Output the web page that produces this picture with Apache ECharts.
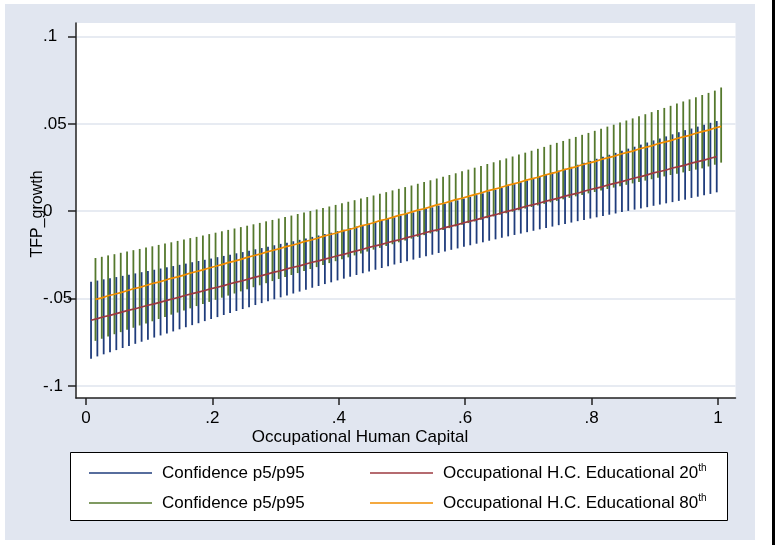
<!DOCTYPE html>
<html>
<head>
<meta charset="utf-8">
<title>TFP growth</title>
<script src="https://cdn.jsdelivr.net/npm/echarts@6/dist/echarts.min.js"></script>
<style>
  html, body { margin: 0; padding: 0; background: #fff; }
  #chart { width: 775px; height: 545px; }
</style>
</head>
<body>
<div id="chart"></div>
<script>
// occupational human capital grid
const hcGrid = [
  0.01, 0.02, 0.03, 0.04, 0.05, 0.06, 0.07, 0.08, 0.09, 0.10,
  0.11, 0.12, 0.13, 0.14, 0.15, 0.16, 0.17, 0.18, 0.19, 0.20,
  0.21, 0.22, 0.23, 0.24, 0.25, 0.26, 0.27, 0.28, 0.29, 0.30,
  0.31, 0.32, 0.33, 0.34, 0.35, 0.36, 0.37, 0.38, 0.39, 0.40,
  0.41, 0.42, 0.43, 0.44, 0.45, 0.46, 0.47, 0.48, 0.49, 0.50,
  0.51, 0.52, 0.53, 0.54, 0.55, 0.56, 0.57, 0.58, 0.59, 0.60,
  0.61, 0.62, 0.63, 0.64, 0.65, 0.66, 0.67, 0.68, 0.69, 0.70,
  0.71, 0.72, 0.73, 0.74, 0.75, 0.76, 0.77, 0.78, 0.79, 0.80,
  0.81, 0.82, 0.83, 0.84, 0.85, 0.86, 0.87, 0.88, 0.89, 0.90,
  0.91, 0.92, 0.93, 0.94, 0.95, 0.96, 0.97, 0.98, 0.99, 1.00
]

// p5/p95 band, educational 20th
const ci20Low = [
  -0.0844, -0.0831, -0.0819, -0.0807, -0.0795, -0.0783, -0.0771, -0.0759, -0.0747, -0.0735,
  -0.0723, -0.0711, -0.0700, -0.0688, -0.0676, -0.0664, -0.0652, -0.0641, -0.0629, -0.0617,
  -0.0606, -0.0594, -0.0583, -0.0571, -0.0560, -0.0549, -0.0537, -0.0526, -0.0515, -0.0504,
  -0.0493, -0.0482, -0.0471, -0.0460, -0.0449, -0.0438, -0.0428, -0.0417, -0.0407, -0.0396,
  -0.0386, -0.0375, -0.0365, -0.0355, -0.0345, -0.0335, -0.0325, -0.0315, -0.0305, -0.0296,
  -0.0286, -0.0277, -0.0267, -0.0258, -0.0249, -0.0239, -0.0230, -0.0221, -0.0213, -0.0204,
  -0.0195, -0.0186, -0.0178, -0.0169, -0.0161, -0.0152, -0.0144, -0.0136, -0.0128, -0.0120,
  -0.0112, -0.0104, -0.0096, -0.0088, -0.0080, -0.0073, -0.0065, -0.0057, -0.0050, -0.0042,
  -0.0035, -0.0027, -0.0020, -0.0013, -0.0005, 0.0002, 0.0009, 0.0016, 0.0023, 0.0031,
  0.0038, 0.0045, 0.0052, 0.0059, 0.0066, 0.0076, 0.0083, 0.0091, 0.0099, 0.0108
]
const ci20High = [
  -0.0404, -0.0397, -0.0390, -0.0383, -0.0377, -0.0370, -0.0363, -0.0356, -0.0349, -0.0342,
  -0.0335, -0.0328, -0.0321, -0.0314, -0.0307, -0.0300, -0.0292, -0.0285, -0.0278, -0.0271,
  -0.0263, -0.0256, -0.0249, -0.0241, -0.0234, -0.0226, -0.0218, -0.0211, -0.0203, -0.0195,
  -0.0187, -0.0180, -0.0172, -0.0164, -0.0156, -0.0147, -0.0139, -0.0131, -0.0123, -0.0114,
  -0.0106, -0.0097, -0.0088, -0.0080, -0.0071, -0.0062, -0.0053, -0.0044, -0.0035, -0.0025,
  -0.0016, -0.0007, 0.0003, 0.0012, 0.0022, 0.0032, 0.0042, 0.0052, 0.0062, 0.0072,
  0.0082, 0.0092, 0.0102, 0.0113, 0.0123, 0.0134, 0.0144, 0.0155, 0.0166, 0.0177,
  0.0188, 0.0199, 0.0210, 0.0221, 0.0232, 0.0243, 0.0254, 0.0266, 0.0277, 0.0288,
  0.0300, 0.0311, 0.0323, 0.0334, 0.0346, 0.0358, 0.0369, 0.0381, 0.0393, 0.0405,
  0.0416, 0.0428, 0.0440, 0.0452, 0.0464, 0.0473, 0.0484, 0.0495, 0.0506, 0.0516
]

// p5/p95 band, educational 80th
const ci80Low = [
  -0.0742, -0.0730, -0.0717, -0.0704, -0.0692, -0.0679, -0.0667, -0.0654, -0.0642, -0.0630,
  -0.0617, -0.0605, -0.0592, -0.0580, -0.0568, -0.0556, -0.0543, -0.0531, -0.0519, -0.0507,
  -0.0495, -0.0483, -0.0471, -0.0459, -0.0447, -0.0435, -0.0424, -0.0412, -0.0400, -0.0388,
  -0.0377, -0.0365, -0.0354, -0.0342, -0.0331, -0.0320, -0.0308, -0.0297, -0.0286, -0.0275,
  -0.0264, -0.0253, -0.0242, -0.0231, -0.0220, -0.0210, -0.0199, -0.0189, -0.0178, -0.0168,
  -0.0157, -0.0147, -0.0137, -0.0127, -0.0117, -0.0107, -0.0097, -0.0087, -0.0078, -0.0068,
  -0.0059, -0.0049, -0.0040, -0.0030, -0.0021, -0.0012, -0.0003, 0.0006, 0.0015, 0.0024,
  0.0033, 0.0042, 0.0051, 0.0059, 0.0068, 0.0076, 0.0085, 0.0093, 0.0102, 0.0110,
  0.0118, 0.0127, 0.0135, 0.0143, 0.0151, 0.0159, 0.0167, 0.0175, 0.0183, 0.0191,
  0.0199, 0.0207, 0.0214, 0.0222, 0.0230, 0.0238, 0.0245, 0.0256, 0.0266, 0.0278
]
const ci80High = [
  -0.0268, -0.0261, -0.0253, -0.0246, -0.0238, -0.0231, -0.0223, -0.0216, -0.0208, -0.0201,
  -0.0193, -0.0185, -0.0178, -0.0170, -0.0162, -0.0154, -0.0147, -0.0139, -0.0131, -0.0123,
  -0.0115, -0.0107, -0.0099, -0.0091, -0.0083, -0.0075, -0.0067, -0.0058, -0.0050, -0.0042,
  -0.0033, -0.0025, -0.0016, -0.0008, 0.0001, 0.0010, 0.0018, 0.0027, 0.0036, 0.0045,
  0.0054, 0.0063, 0.0072, 0.0081, 0.0090, 0.0100, 0.0109, 0.0119, 0.0128, 0.0138,
  0.0147, 0.0157, 0.0167, 0.0177, 0.0187, 0.0197, 0.0207, 0.0217, 0.0228, 0.0238,
  0.0249, 0.0259, 0.0270, 0.0280, 0.0291, 0.0302, 0.0313, 0.0324, 0.0335, 0.0346,
  0.0357, 0.0368, 0.0380, 0.0391, 0.0402, 0.0414, 0.0425, 0.0437, 0.0448, 0.0460,
  0.0472, 0.0484, 0.0495, 0.0507, 0.0519, 0.0531, 0.0543, 0.0555, 0.0567, 0.0579,
  0.0591, 0.0603, 0.0616, 0.0628, 0.0640, 0.0652, 0.0665, 0.0677, 0.0690, 0.0708
]

// predicted TFP growth
const pred20 = [
  -0.0624, -0.0615, -0.0604, -0.0596, -0.0586, -0.0576, -0.0566, -0.0558, -0.0548, -0.0538,
  -0.0530, -0.0520, -0.0510, -0.0501, -0.0492, -0.0481, -0.0472, -0.0463, -0.0454, -0.0443,
  -0.0435, -0.0426, -0.0415, -0.0406, -0.0398, -0.0387, -0.0377, -0.0369, -0.0359, -0.0349,
  -0.0341, -0.0330, -0.0321, -0.0313, -0.0302, -0.0292, -0.0284, -0.0274, -0.0265, -0.0255,
  -0.0247, -0.0236, -0.0227, -0.0218, -0.0207, -0.0198, -0.0190, -0.0179, -0.0170, -0.0162,
  -0.0151, -0.0142, -0.0133, -0.0122, -0.0113, -0.0105, -0.0094, -0.0085, -0.0077, -0.0066,
  -0.0057, -0.0048, -0.0038, -0.0028, -0.0020, -0.0009, 0.0000, 0.0009, 0.0019, 0.0030,
  0.0038, 0.0047, 0.0058, 0.0066, 0.0075, 0.0086, 0.0095, 0.0103, 0.0114, 0.0124,
  0.0132, 0.0141, 0.0152, 0.0161, 0.0169, 0.0180, 0.0190, 0.0198, 0.0208, 0.0219,
  0.0227, 0.0236, 0.0247, 0.0255, 0.0264, 0.0275, 0.0284, 0.0292, 0.0303, 0.0312
]
const pred80 = [
  -0.0505, -0.0496, -0.0484, -0.0475, -0.0466, -0.0455, -0.0444, -0.0436, -0.0425, -0.0414,
  -0.0406, -0.0395, -0.0384, -0.0376, -0.0366, -0.0354, -0.0345, -0.0336, -0.0325, -0.0315,
  -0.0306, -0.0294, -0.0286, -0.0276, -0.0264, -0.0255, -0.0246, -0.0234, -0.0225, -0.0216,
  -0.0204, -0.0196, -0.0186, -0.0174, -0.0166, -0.0156, -0.0144, -0.0135, -0.0126, -0.0114,
  -0.0106, -0.0096, -0.0084, -0.0076, -0.0066, -0.0054, -0.0046, -0.0035, -0.0024, -0.0016,
  -0.0005, 0.0006, 0.0014, 0.0025, 0.0036, 0.0044, 0.0055, 0.0066, 0.0074, 0.0085,
  0.0095, 0.0104, 0.0116, 0.0125, 0.0134, 0.0146, 0.0155, 0.0164, 0.0176, 0.0185,
  0.0194, 0.0206, 0.0215, 0.0224, 0.0236, 0.0245, 0.0254, 0.0266, 0.0275, 0.0284,
  0.0296, 0.0305, 0.0314, 0.0326, 0.0335, 0.0344, 0.0356, 0.0365, 0.0374, 0.0386,
  0.0395, 0.0404, 0.0416, 0.0425, 0.0434, 0.0446, 0.0455, 0.0464, 0.0476, 0.0485
]

const xTicks = [0, 0.2, 0.4, 0.6, 0.8, 1]
const yTicks = [-0.1, -0.05, 0, 0.05, 0.1]
const legendNames = {
  ci20: 'Confidence p5/p95',
  ci80: 'Confidence p5/p95',
  p20: 'Occupational H.C. Educational 20{sup|th}',
  p80: 'Occupational H.C. Educational 80{sup|th}'
}

const FONT = 'Liberation Sans, Arial, sans-serif'
const stataNum = (v) => (v === 0 ? '0' : String(v).replace('0.', '.'))

const xRange = [-0.0158, 1.0277]
// the two groups sit slightly apart on the x axis in the original
const shift20 = -0.002
const shift80 = 0.005

const chart = echarts.init(document.getElementById('chart'))

const ciBar = (params, api) => {
  const lo = api.coord([api.value(0), api.value(1)])
  const hi = api.coord([api.value(0), api.value(2)])
  return {
    type: 'line',
    shape: { x1: lo[0], y1: lo[1], x2: hi[0], y2: hi[1] },
    style: { stroke: api.visual('color'), lineWidth: 1.8 }
  }
}

const hiddenX = (shift) => ({
  type: 'value',
  show: false,
  min: xRange[0] - shift,
  max: xRange[1] - shift
})

const legendBase = {
  orient: 'vertical',
  top: 458,
  icon: 'rect',
  itemWidth: 63,
  itemHeight: 1.5,
  itemGap: 10,
  selectedMode: false,
  formatter: (name) => legendNames[name],
  textStyle: {
    fontFamily: FONT,
    fontSize: 17,
    color: '#000',
    lineHeight: 20,
    padding: [0, 0, 0, 5],
    rich: {
      sup: { fontFamily: FONT, fontSize: 10, color: '#000', verticalAlign: 'top', lineHeight: 10 }
    }
  }
}

const option = {
  animation: false,
  graphic: [
    { type: 'rect', z: -10, shape: { x: 5, y: 4, width: 750, height: 536 }, style: { fill: '#e1e6f0' } },
    { type: 'rect', z: -10, shape: { x: 772, y: 0, width: 3, height: 545 }, style: { fill: '#000' } },
    { type: 'rect', z: 1, shape: { x: 70.5, y: 452.5, width: 657, height: 68 }, style: { fill: '#fff', stroke: '#000', lineWidth: 1 } },
    {
      type: 'text', z: 5, x: 360, y: 437,
      style: { text: 'Occupational Human Capital', fontFamily: FONT, fontSize: 17, fill: '#000', align: 'center', verticalAlign: 'middle' }
    },
    {
      type: 'text', z: 5, x: 38, y: 214, rotation: Math.PI / 2,
      style: { text: 'TFP_growth', fontFamily: FONT, fontSize: 16, fill: '#000', align: 'center', verticalAlign: 'middle' }
    }
  ],
  grid: {
    left: 76, right: 39.5, top: 23, bottom: 147,
    show: true, backgroundColor: '#fff', borderWidth: 0
  },
  xAxis: [
    {
      type: 'value',
      min: xRange[0],
      max: xRange[1],
      axisLine: { show: true, onZero: false, lineStyle: { color: '#222', width: 1.5 } },
      axisTick: { show: true, length: 7, lineStyle: { color: '#222', width: 1.5 }, customValues: xTicks },
      axisLabel: { customValues: xTicks, formatter: stataNum, margin: 12, fontFamily: FONT, fontSize: 17, color: '#000' },
      splitLine: { show: false }
    },
    hiddenX(shift20),
    hiddenX(shift80)
  ],
  yAxis: {
    type: 'value',
    min: -0.1069,
    max: 0.1077,
    axisLine: { show: true, onZero: false, lineStyle: { color: '#222', width: 1.5 } },
    axisTick: { show: true, length: 8, lineStyle: { color: '#222', width: 1.5 }, customValues: yTicks },
    axisLabel: { customValues: yTicks, formatter: stataNum, align: 'left', margin: 33, fontFamily: FONT, fontSize: 17, color: '#000' },
    splitLine: { show: true, lineStyle: { color: '#dfe5ee', width: 1.5 } }
  },
  legend: [
    { ...legendBase, left: 84, data: ['ci20', 'ci80'] },
    { ...legendBase, left: 365, data: ['p20', 'p80'] }
  ],
  series: [
    {
      name: 'ci20',
      type: 'custom',
      xAxisIndex: 1,
      color: '#1f3c7c',
      renderItem: ciBar,
      encode: { x: 0, y: [1, 2] },
      data: hcGrid.map((x, i) => [x, ci20Low[i], ci20High[i]])
    },
    {
      name: 'ci80',
      type: 'custom',
      xAxisIndex: 2,
      color: '#55792d',
      renderItem: ciBar,
      encode: { x: 0, y: [1, 2] },
      data: hcGrid.map((x, i) => [x, ci80Low[i], ci80High[i]])
    },
    {
      name: 'p20',
      type: 'line',
      xAxisIndex: 1,
      color: '#9c3a40',
      symbol: 'none',
      lineStyle: { width: 1.7 },
      data: hcGrid.map((x, i) => [x, pred20[i]])
    },
    {
      name: 'p80',
      type: 'line',
      xAxisIndex: 2,
      color: '#f08c00',
      symbol: 'none',
      lineStyle: { width: 1.7 },
      data: hcGrid.map((x, i) => [x, pred80[i]])
    }
  ]
}

chart.setOption(option)
</script>
</body>
</html>
